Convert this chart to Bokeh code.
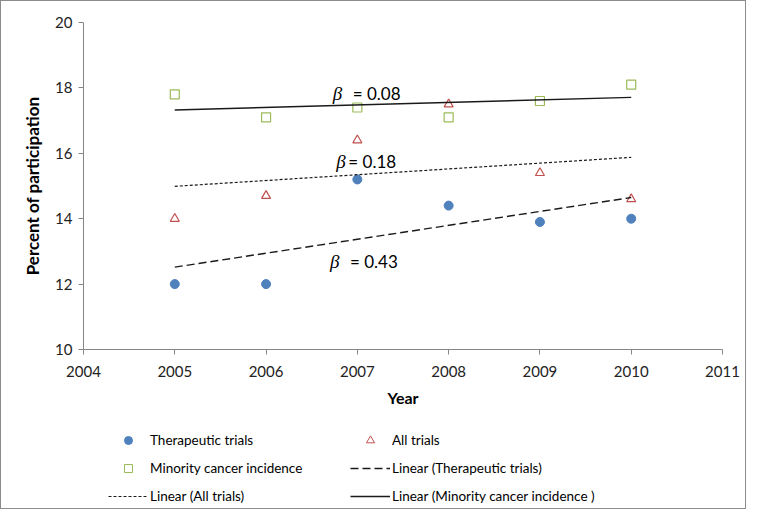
import numpy as np
from bokeh.plotting import figure
from bokeh.layouts import column
from bokeh.models import Range1d, FixedTicker, Legend, LegendItem
from bokeh.core.properties import value
from bokeh.embed import file_html
from bokeh.resources import INLINE

# ---- data ----
years = [2005, 2006, 2007, 2008, 2009, 2010]
therapeutic = [12.0, 12.0, 15.2, 14.4, 13.9, 14.0]
all_trials = [14.0, 14.7, 16.4, 17.5, 15.4, 14.6]
minority = [17.8, 17.1, 17.4, 17.1, 17.6, 18.1]
x_ticks = [2004, 2005, 2006, 2007, 2008, 2009, 2010, 2011]
y_ticks = [10, 12, 14, 16, 18, 20]
series_names = ["Therapeutic trials", "All trials", "Minority cancer incidence"]
trend_names = ["Linear (Therapeutic trials)", "Linear (All trials)",
               "Linear (Minority cancer incidence )"]

FONT = "Lato"
BLUE = "#4F81BD"
RED = "#C0504D"
GREEN = "#9BBB59"
AXIS = "#868686"
LINE = "#1a1a1a"

W = 744
H_MAIN = 416
H_LEG = 91

p = figure(width=W, height=H_MAIN,
           x_range=Range1d(x_ticks[0], x_ticks[-1]),
           y_range=Range1d(y_ticks[0], y_ticks[-1]),
           output_backend="svg", toolbar_location=None,
           min_border_left=82, min_border_right=23,
           min_border_top=21, min_border_bottom=68)
p.outline_line_color = None
p.xgrid.visible = False
p.ygrid.visible = False

for ax in (p.xaxis[0], p.yaxis[0]):
    ax.axis_line_color = AXIS
    ax.major_tick_line_color = AXIS
    ax.minor_tick_line_color = None
    ax.major_tick_in = 0
    ax.major_tick_out = 5
    ax.major_label_text_font = FONT
    ax.major_label_text_font_size = "15px"
    ax.major_label_text_color = "#222222"
    ax.axis_label_text_font = FONT
    ax.axis_label_text_font_style = "bold"
    ax.axis_label_text_color = "black"

p.xaxis.ticker = FixedTicker(ticks=x_ticks)
p.yaxis.ticker = FixedTicker(ticks=y_ticks)
p.xaxis.axis_label = "Year"
p.yaxis.axis_label = "Percent of participation"
p.xaxis.axis_label_text_font_size = "16px"
p.yaxis.axis_label_text_font_size = "17px"
p.xaxis.major_label_standoff = 11
p.yaxis.major_label_standoff = 6
p.xaxis.axis_label_standoff = 8
p.yaxis.axis_label_standoff = 9

# ---- scatter series ----
ther_style = dict(marker="circle", size=9, fill_color=BLUE, line_color=BLUE)
all_style = dict(marker="triangle", size=9, fill_color=None, line_color=RED, line_width=1.2)
min_style = dict(marker="square", size=9, fill_color=None, line_color=GREEN, line_width=1.2)
p.scatter(years, therapeutic, **ther_style)
p.scatter(years, all_trials, **all_style)
p.scatter(years, minority, **min_style)

# ---- linear trend lines (least squares on the data) ----
xs = np.array(years, dtype=float)
fits = {}
for key, ys in (("ther", therapeutic), ("all", all_trials), ("min", minority)):
    slope, icpt = np.polyfit(xs, np.array(ys, dtype=float), 1)
    fits[key] = (slope, icpt)

def fit_line(key):
    s, b = fits[key]
    return [xs[0], xs[-1]], [s * xs[0] + b, s * xs[-1] + b]

lt_style = dict(line_color=LINE, line_width=1.4, line_dash="8 4")
la_style = dict(line_color=LINE, line_width=1.2, line_dash="3 2")
lm_style = dict(line_color=LINE, line_width=1.4)
p.line(*fit_line("ther"), **lt_style)
p.line(*fit_line("all"), **la_style)
p.line(*fit_line("min"), **lm_style)

# ---- beta annotations ----
label_keys = ["min", "all", "ther"]
label_x = [2006.73, 2006.77, 2006.70]
label_dy = [0.37, 0.43, -0.56]
eq_dx = [20, 12, 20]
bx, by, etxt = [], [], []
for k, x0, dy in zip(label_keys, label_x, label_dy):
    s, b = fits[k]
    bx.append(x0)
    by.append(s * x0 + b + dy)
    etxt.append("= %.2f" % s)

p.text(bx, by, text=["\u03b2"] * 3, text_font=value("Liberation Serif"),
       text_font_style="italic", text_font_size="19px",
       text_baseline="middle", text_align="left", text_color="black")
p.text(bx, by, text=etxt, x_offset=eq_dx, text_font=value(FONT),
       text_font_size="17px", text_baseline="middle", text_align="left",
       text_color="black")

# ---- legend strip below the chart ----
# (legend proxies: the same series drawn in a strip whose ranges keep them
#  out of view, so only their legend glyphs show)
lf = figure(width=W, height=H_LEG, x_range=Range1d(0, 1), y_range=Range1d(0, 1),
            output_backend="svg", toolbar_location=None,
            min_border_left=0, min_border_right=0, min_border_top=0,
            min_border_bottom=0)
lf.axis.visible = False
lf.grid.visible = False
lf.outline_line_color = None

small = dict(size=6)
d_ther = lf.scatter(years, therapeutic, **{**ther_style, **small})
d_all = lf.scatter(years, all_trials, **{**all_style, **small, "line_width": 1})
d_min = lf.scatter(years, minority, **{**min_style, **small, "line_width": 1})
d_lt = lf.line(*fit_line("ther"), **lt_style)
d_la = lf.line(*fit_line("all"), **la_style)
d_lm = lf.line(*fit_line("min"), **lm_style)

common = dict(orientation="vertical", glyph_width=40, glyph_height=20,
              label_height=20, label_standoff=2, spacing=8, padding=0,
              margin=0, border_line_color=None, background_fill_alpha=0,
              label_text_font=FONT, label_text_font_size="13.5px",
              label_text_color="black")
leg1 = Legend(items=[LegendItem(label=series_names[0], renderers=[d_ther]),
                     LegendItem(label=series_names[2], renderers=[d_min]),
                     LegendItem(label=trend_names[1], renderers=[d_la])],
              location=(25, 2), **common)
leg2 = Legend(items=[LegendItem(label=series_names[1], renderers=[d_all]),
                     LegendItem(label=trend_names[0], renderers=[d_lt]),
                     LegendItem(label=trend_names[2], renderers=[d_lm])],
              location=(267, 2), **common)
lf.add_layout(leg1, "center")
lf.add_layout(leg2, "center")

layout = column(p, lf, spacing=0, styles={"border": "1px solid #8c8c8c"})
open("out.html", "w").write(file_html(layout, INLINE))
